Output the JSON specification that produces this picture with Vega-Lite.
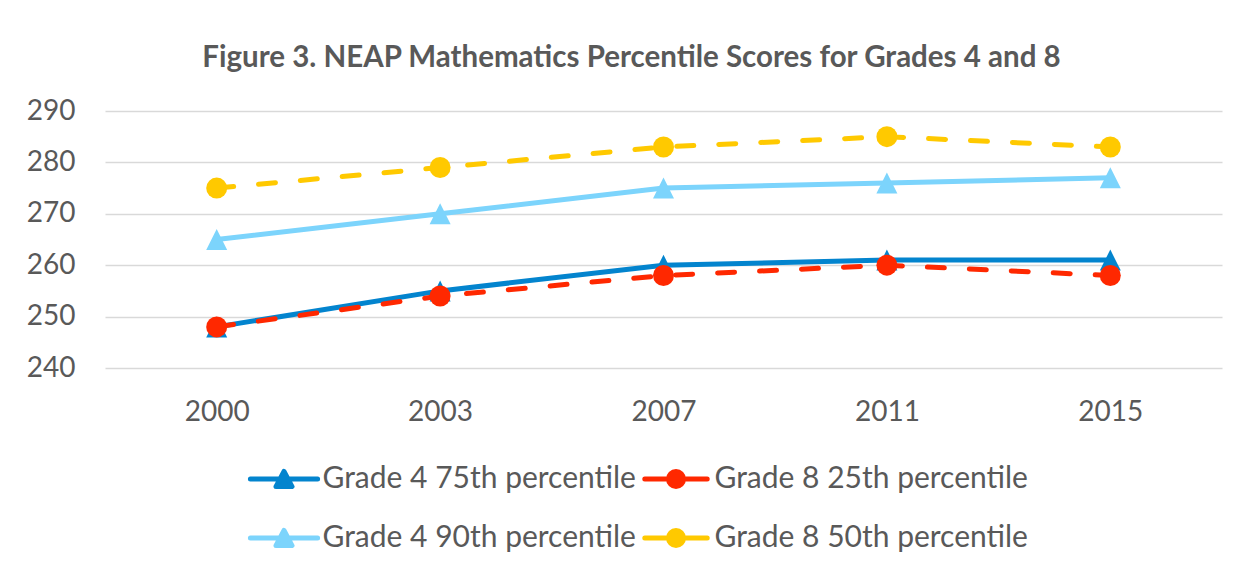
{
  "$schema": "https://vega.github.io/schema/vega-lite/v6.json",
  "width": 1117,
  "height": 257,
  "autosize": {"type": "none"},
  "padding": {"left": 105, "top": 111, "right": 27, "bottom": 207},
  "background": "white",
  "config": {"font": "Lato", "view": {"stroke": null}},
  "title": {
    "text": "Figure 3. NEAP Mathematics Percentile Scores for Grades 4 and 8",
    "fontSize": 29.5,
    "fontWeight": "bold",
    "color": "#595959",
    "anchor": "middle",
    "frame": "group",
    "baseline": "alphabetic",
    "offset": 1,
    "dx": -32
  },
  "data": {
    "values": [
      {"series": "Grade 4 75th percentile", "grade": "4", "year": "2000", "score": 248},
      {"series": "Grade 4 75th percentile", "grade": "4", "year": "2003", "score": 255},
      {"series": "Grade 4 75th percentile", "grade": "4", "year": "2007", "score": 260},
      {"series": "Grade 4 75th percentile", "grade": "4", "year": "2011", "score": 261},
      {"series": "Grade 4 75th percentile", "grade": "4", "year": "2015", "score": 261},
      {"series": "Grade 8 25th percentile", "grade": "8", "year": "2000", "score": 248},
      {"series": "Grade 8 25th percentile", "grade": "8", "year": "2003", "score": 254},
      {"series": "Grade 8 25th percentile", "grade": "8", "year": "2007", "score": 258},
      {"series": "Grade 8 25th percentile", "grade": "8", "year": "2011", "score": 260},
      {"series": "Grade 8 25th percentile", "grade": "8", "year": "2015", "score": 258},
      {"series": "Grade 4 90th percentile", "grade": "4", "year": "2000", "score": 265},
      {"series": "Grade 4 90th percentile", "grade": "4", "year": "2003", "score": 270},
      {"series": "Grade 4 90th percentile", "grade": "4", "year": "2007", "score": 275},
      {"series": "Grade 4 90th percentile", "grade": "4", "year": "2011", "score": 276},
      {"series": "Grade 4 90th percentile", "grade": "4", "year": "2015", "score": 277},
      {"series": "Grade 8 50th percentile", "grade": "8", "year": "2000", "score": 275},
      {"series": "Grade 8 50th percentile", "grade": "8", "year": "2003", "score": 279},
      {"series": "Grade 8 50th percentile", "grade": "8", "year": "2007", "score": 283},
      {"series": "Grade 8 50th percentile", "grade": "8", "year": "2011", "score": 285},
      {"series": "Grade 8 50th percentile", "grade": "8", "year": "2015", "score": 283}
    ]
  },
  "encoding": {
    "x": {
      "field": "year",
      "type": "ordinal",
      "sort": null,
      "scale": {"type": "point", "padding": 0.5},
      "axis": {
        "title": null,
        "labelAngle": 0,
        "domain": false,
        "ticks": false,
        "grid": false,
        "labelFontSize": 28,
        "labelColor": "#595959",
        "labelPadding": 30
      }
    },
    "y": {
      "field": "score",
      "type": "quantitative",
      "scale": {"domain": [240, 290], "zero": false, "nice": false},
      "axis": {
        "title": null,
        "values": [240, 250, 260, 270, 280, 290],
        "domain": false,
        "ticks": false,
        "grid": true,
        "gridColor": "#D9D9D9",
        "gridWidth": 1.5,
        "labelFontSize": 28,
        "labelColor": "#595959",
        "labelPadding": 30
      }
    },
    "color": {
      "field": "series",
      "type": "nominal",
      "sort": null,
      "scale": {
        "domain": ["Grade 4 75th percentile", "Grade 8 25th percentile", "Grade 4 90th percentile", "Grade 8 50th percentile"],
        "range": ["#0384CE", "#FF2800", "#7CD4FC", "#FFC900"]
      },
      "legend": {
        "title": null,
        "orient": "none",
        "legendX": 164,
        "legendY": 353,
        "direction": "horizontal",
        "columns": 2,
        "padding": 0,
        "symbolSize": 576,
        "symbolStrokeWidth": 5,
        "labelFontSize": 30,
        "labelColor": "#595959",
        "labelOffset": 23.5,
        "labelLimit": 0,
        "columnPadding": 6,
        "rowPadding": 29,
        "encode": {
          "symbols": {
            "update": {
              "shape": {"signal": "indexof(['Grade 4 75th percentile','Grade 4 90th percentile'], datum.value) >= 0 ? 'M-2.8,0L2.8,0M0,-0.63L0.67,0.63L-0.67,0.63Z' : 'M-2.6,0L2.6,0M0.625,0A0.625,0.625,0,1,1,-0.625,0A0.625,0.625,0,1,1,0.625,0Z'"},
              "size": {"value": 576},
              "fill": {"scale": "color", "field": "value"},
              "stroke": {"scale": "color", "field": "value"},
              "strokeWidth": {"value": 5},
              "strokeOpacity": {"value": 1},
              "fillOpacity": {"value": 1},
              "strokeCap": {"value": "round"},
              "strokeJoin": {"value": "round"},
              "opacity": {"value": 1}
            }
          }
        }
      }
    }
  },
  "layer": [
    {
      "transform": [{"filter": "datum.grade === '4'"}],
      "mark": {"type": "line", "strokeWidth": 5, "strokeCap": "round"}
    },
    {
      "transform": [{"filter": "datum.grade === '8'"}],
      "mark": {"type": "line", "strokeWidth": 5, "strokeCap": "round", "strokeDash": [17, 25]}
    },
    {
      "transform": [{"filter": "datum.grade === '4'"}],
      "mark": {"type": "point", "filled": true, "opacity": 1, "size": 441, "strokeWidth": 0, "shape": "M0,-1L1,1L-1,1Z"}
    },
    {
      "transform": [{"filter": "datum.grade === '8'"}],
      "mark": {"type": "point", "filled": true, "opacity": 1, "size": 441, "strokeWidth": 0, "shape": "circle"}
    }
  ]
}
